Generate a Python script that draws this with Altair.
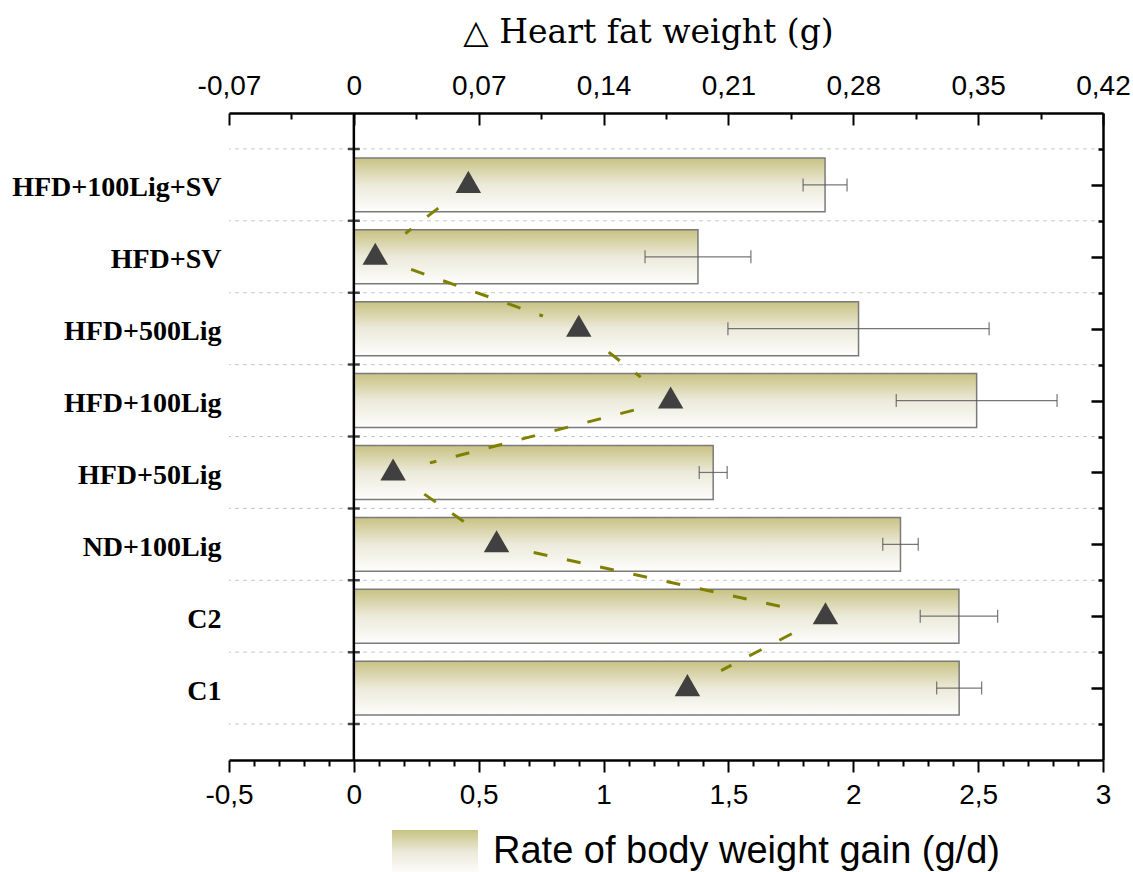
import json
import math

import altair as alt
import pandas as pd

# ---- data ---------------------------------------------------------------
groups = ["HFD+100Lig+SV", "HFD+SV", "HFD+500Lig", "HFD+100Lig",
          "HFD+50Lig", "ND+100Lig", "C2", "C1"]
gain_rate = [1.887, 1.378, 2.021, 2.494, 1.439, 2.189, 2.423, 2.424]   # g/d
gain_err = [0.088, 0.212, 0.523, 0.322, 0.056, 0.071, 0.155, 0.090]
heart_fat = [0.0642, 0.0120, 0.1261, 0.1776, 0.0220, 0.0800, 0.2644, 0.1870]  # g

rate_ticks = [-0.5, 0, 0.5, 1, 1.5, 2, 2.5, 3]
fat_ticks = [-0.07, 0, 0.07, 0.14, 0.21, 0.28, 0.35, 0.42]
series_name = "Rate of body weight gain (g/d)"

# ---- layout -------------------------------------------------------------
W, H = 874, 647
RATE_DOM = [-0.5, 3]
FAT_DOM = [-0.07, 0.42]
POS_DOM = [0, 9]

rate_minor = [round(-0.5 + 0.1 * k, 2) for k in range(36) if k % 5]
fat_minor = [round(a + 0.035, 3) for a in fat_ticks[:-1]]
positions = list(range(1, len(groups) + 1))
bounds = [p + 0.5 for p in range(len(groups) + 1)]

df = pd.DataFrame({
    "group": groups,
    "pos": positions,
    "rate": gain_rate,
    "err": gain_err,
    "fat": heart_fat,
})
df["lo"] = df["rate"] - df["err"]
df["hi"] = df["rate"] + df["err"]
df["b0"] = df["pos"] - 0.375
df["b1"] = df["pos"] + 0.375
df["zero"] = 0.0
df["series"] = series_name

# dashed connector between the triangles, leaving a gap around every symbol
px_fat = W / (FAT_DOM[1] - FAT_DOM[0])
px_pos = H / (POS_DOM[1] - POS_DOM[0])
GAP = 38
seg_rows = []
for i in range(len(groups) - 1):
    xa, ya = heart_fat[i] * px_fat, positions[i] * px_pos
    xb, yb = heart_fat[i + 1] * px_fat, positions[i + 1] * px_pos
    L = math.hypot(xb - xa, yb - ya)
    ux, uy = (xb - xa) / L, (yb - ya) / L
    seg_rows.append({
        "x0": (xa + GAP * ux) / px_fat, "y0": (ya + GAP * uy) / px_pos,
        "x1": (xb - GAP * ux) / px_fat, "y1": (yb - GAP * uy) / px_pos,
    })
seg_df = pd.DataFrame(seg_rows)

# ---- scales / label formatting -------------------------------------------
x_rate = alt.Scale(domain=RATE_DOM, nice=False, zero=False)
x_fat = alt.Scale(domain=FAT_DOM, nice=False, zero=False)
y_sc = alt.Scale(domain=POS_DOM, reverse=True, nice=False, zero=False)

rate_label = ("datum.value == 0 ? '0' : (datum.value < 0 ? '-' : '') + "
              "replace(format(abs(datum.value), '~g'), '.', ',')")
fat_label = ("datum.value == 0 ? '0' : (datum.value < 0 ? '-' : '') + "
             "replace(format(abs(datum.value), '.2f'), '.', ',')")
group_label = json.dumps(groups).replace('"', "'") + "[datum.value - 1]"

TICK_FONT = "Liberation Sans"
bar_fill = alt.Gradient(
    gradient="linear",
    stops=[alt.GradientStop(color="#c8c283", offset=0),
           alt.GradientStop(color="#eceada", offset=0.5),
           alt.GradientStop(color="#fdfdfc", offset=1)],
    x1=0, x2=0, y1=0, y2=1,
)


def bare(**kw):
    """Axis that only draws what is passed in (ticks or domain)."""
    base = dict(labels=False, ticks=False, domain=False, grid=False, title=None)
    base.update(kw)
    return alt.Axis(**base)


# ---- layers ---------------------------------------------------------------
grid = alt.Chart(pd.DataFrame({"b": bounds})).mark_rule(
    color="#c8c8c8", strokeDash=[4, 4], strokeWidth=1
).encode(y=alt.Y("b:Q", scale=y_sc, axis=None))

bars = alt.Chart(df).mark_bar(
    color=bar_fill, stroke="#7a7a7a", strokeWidth=1.5
).encode(
    x=alt.X("zero:Q", scale=x_rate, axis=alt.Axis(
        orient="bottom", values=rate_ticks, labelExpr=rate_label,
        ticks=False, domain=True, domainColor="black", domainWidth=2.5,
        labelPadding=21, labelFont=TICK_FONT, labelFontSize=28,
        labelColor="black", labelFlush=False, grid=False, title=None)),
    x2="rate:Q",
    y=alt.Y("b0:Q", scale=y_sc, axis=alt.Axis(
        orient="left", values=positions, labelExpr=group_label,
        ticks=False, domain=False, grid=False, title=None,
        labelFont="Liberation Serif", labelFontWeight="bold",
        labelFontSize=28, labelPadding=8, labelColor="black",
        labelOffset=3, labelLimit=400)),
    y2="b1:Q",
    strokeDash=alt.StrokeDash("series:N", scale=alt.Scale(range=[[1, 0]]),
                              legend=alt.Legend(
        orient="none", legendX=162, legendY=695, title=None,
        symbolType="M-1,-0.5116H1V0.5116H-1Z", symbolSize=7396,
        symbolStrokeColor="#7a7a7a", symbolStrokeWidth=1.5,
        labelFont=TICK_FONT, labelFontSize=38, labelColor="black",
        labelOffset=14, labelLimit=900, padding=0)),
)

errs = alt.Chart(df).mark_rule(
    color="#555555", strokeWidth=1.2, opacity=0.8
).encode(
    x=alt.X("lo:Q", scale=x_rate, axis=bare(
        orient="bottom", values=rate_ticks, ticks=True, tickSize=12,
        tickWidth=2, tickColor="black", zindex=1)),
    x2="hi:Q",
    y=alt.Y("pos:Q", scale=y_sc, axis=bare(
        orient="right", domain=True, domainWidth=2.5, domainColor="black",
        zindex=1)),
)

caps = alt.Chart(df).transform_fold(["lo", "hi"], as_=["end", "xv"]).mark_tick(
    orient="vertical", size=13, thickness=1.2, color="#555555", opacity=0.8
).encode(
    x=alt.X("xv:Q", scale=x_rate, axis=bare(
        orient="bottom", values=rate_minor, ticks=True, tickSize=6,
        tickWidth=2, tickColor="black", zindex=1)),
    y=alt.Y("pos:Q", scale=y_sc, axis=bare(
        orient="right", values=positions, offset=-12, ticks=True,
        tickSize=12, tickWidth=2.5, tickColor="black", zindex=1)),
)

zero_line = alt.Chart(pd.DataFrame({"z": [0.0]})).mark_rule(
    color="black", strokeWidth=2.5
).encode(
    x=alt.X("z:Q", scale=x_fat, axis=bare(
        orient="top", values=fat_minor, offset=-6, ticks=True, tickSize=6,
        tickWidth=2, tickColor="black", zindex=1)),
)

cross = alt.Chart(pd.DataFrame({"b": bounds, "z": 0.0})).mark_tick(
    orient="horizontal", size=12, thickness=2.5, color="black"
).encode(
    x=alt.X("z:Q", scale=x_rate, axis=None),
    y=alt.Y("b:Q", scale=y_sc, axis=None),
)

segs = alt.Chart(seg_df).mark_rule(
    color="#808000", strokeWidth=3, strokeDash=[14, 20]
).encode(
    x=alt.X("x0:Q", scale=x_fat, axis=bare(
        orient="top", values=fat_ticks, offset=-12, ticks=True, tickSize=12,
        tickWidth=2, tickColor="black", zindex=1)),
    x2="x1:Q",
    y=alt.Y("y0:Q", scale=y_sc, axis=bare(
        orient="right", values=bounds, offset=-5, ticks=True, tickSize=5,
        tickWidth=2.5, tickColor="black", zindex=1)),
    y2="y1:Q",
)

tri = alt.Chart(df).mark_point(
    shape="triangle-up", filled=True, size=650, color="#404040",
    opacity=1, yOffset=-3
).encode(
    x=alt.X("fat:Q", scale=x_fat, axis=alt.Axis(
        orient="top", values=fat_ticks, labelExpr=fat_label, ticks=False,
        domain=True, domainWidth=2.5, domainColor="black", labelPadding=13,
        labelFont=TICK_FONT, labelFontSize=28, labelColor="black",
        labelFlush=False, grid=False, zindex=1,
        title="\u25b3   Heart fat weight (g)", titleFont="DejaVu Serif",
        titleFontSize=33, titleFontWeight="normal", titleColor="black",
        titleX=419, titleY=-71, titleAlign="center",
        titleBaseline="alphabetic")),
    y=alt.Y("pos:Q", scale=y_sc, axis=None),
)

chart = alt.layer(
    grid, bars, errs, caps, zero_line, cross, segs, tri
).resolve_scale(
    x="independent"
).resolve_axis(
    x="independent", y="independent"
).properties(
    width=W, height=H,
    autosize=alt.AutoSizeParams(type="none"),
    padding={"left": 229, "top": 113, "right": 30, "bottom": 112},
    background="white",
).configure_view(stroke=None)

chart.save("out.html", embed_options={"renderer": "svg", "actions": False})
